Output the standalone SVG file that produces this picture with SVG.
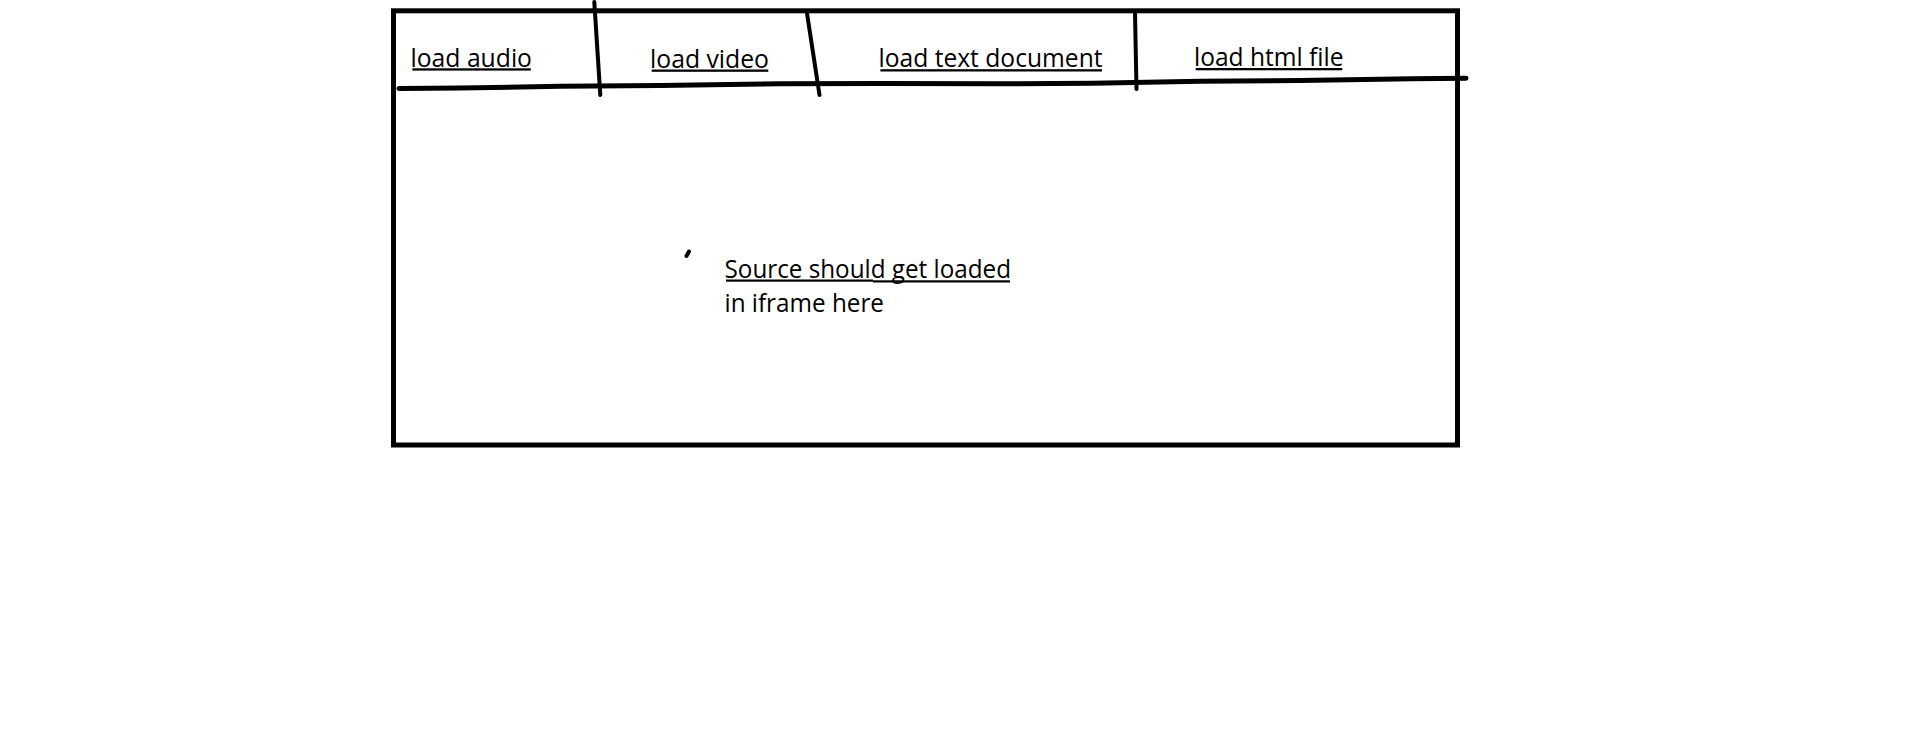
<svg xmlns="http://www.w3.org/2000/svg" width="1914" height="740" viewBox="0 0 1914 740">
  <style>
    .ln { fill: none; stroke: #000; stroke-linecap: round; stroke-linejoin: round; }
    .lbl { font-family: "Open Sans", "Liberation Sans", sans-serif; font-size: 26px; fill: #000; }
    .ul { fill: #000; }
  </style>
  <rect x="0" y="0" width="1914" height="740" fill="#fff"/>
  <g id="frame">
    <rect x="393.5" y="10.8" width="1064" height="434.2" fill="none" stroke="#000" stroke-width="5"/>
  </g>
  <g id="connectors">
    <path class="ln" stroke-width="5" d="M399,88.5 L460,88 L560,86.3 L660,85.5 L780,83.8 L880,83.5 L1000,83.8 L1093,83.3 L1200,81.3 L1300,80.5 L1412,78.8 L1466,78.3"/>
    <path class="ln" stroke-width="4" d="M594.3,2 L600.3,95"/>
    <path class="ln" stroke-width="4" d="M807,13.3 L819.5,95"/>
    <path class="ln" stroke-width="4" d="M1135,12.5 L1136.5,89"/>
    <path class="ln" stroke-width="4" d="M689,251.5 L686.5,256"/>
  </g>
  <g id="tab-audio">
    <text class="lbl" x="410.5" y="66.5" textLength="121.5" lengthAdjust="spacingAndGlyphs">load audio</text>
    <rect class="ul" x="412.3" y="68.3" width="118.5" height="2.3"/>
  </g>
  <g id="tab-video">
    <text class="lbl" x="650" y="67.5" textLength="119" lengthAdjust="spacingAndGlyphs">load video</text>
    <rect class="ul" x="651.7" y="69.5" width="116.6" height="2.3"/>
  </g>
  <g id="tab-text">
    <text class="lbl" x="878.5" y="67" textLength="224" lengthAdjust="spacingAndGlyphs">load text document</text>
    <rect class="ul" x="880.4" y="69.2" width="221.6" height="2.3"/>
  </g>
  <g id="tab-html">
    <text class="lbl" x="1194" y="66" textLength="149.5" lengthAdjust="spacingAndGlyphs">load html file</text>
    <rect class="ul" x="1195.7" y="68" width="146.6" height="2.3"/>
  </g>
  <g id="content">
    <text class="lbl" x="724.5" y="277.5" textLength="286.5" lengthAdjust="spacingAndGlyphs">Source should get loaded</text>
    <rect class="ul" x="726" y="279.5" width="147" height="2.2"/>
    <rect class="ul" x="873" y="280.3" width="137" height="2.2"/>
    <text class="lbl" x="724.5" y="312" textLength="159.5" lengthAdjust="spacingAndGlyphs">in iframe here</text>
  </g>
</svg>
